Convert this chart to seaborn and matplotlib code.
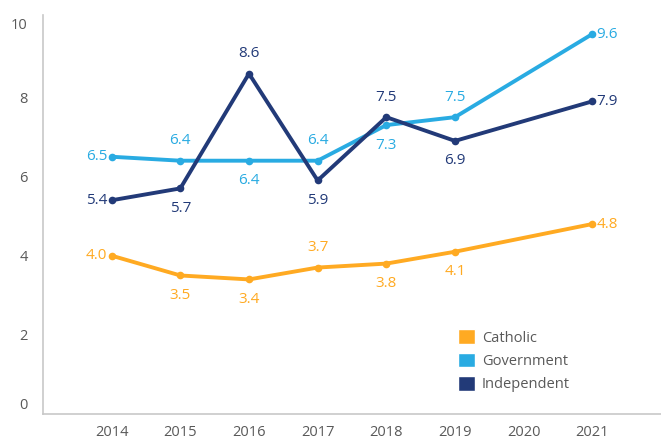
import numpy as np
import pandas as pd
import matplotlib.pyplot as plt
import matplotlib.transforms as mtransforms
import seaborn as sns
from matplotlib.patches import Patch

years = [2014, 2015, 2016, 2017, 2018, 2019, 2021]
catholic = [4.0, 3.5, 3.4, 3.7, 3.8, 4.1, 4.8]
government = [6.5, 6.4, 6.4, 6.4, 7.3, 7.5, 9.6]
independent = [5.4, 5.7, 8.6, 5.9, 7.5, 6.9, 7.9]
sectors = ["Catholic", "Government", "Independent"]
tick_years = list(range(2013, 2023))

colors = {"Catholic": "#FFAA22", "Government": "#29ABE2", "Independent": "#223A78"}
# where each value label sits relative to its point
label_pos = {
    "Catholic": ["l", "b", "b", "a", "b", "b", "r"],
    "Government": ["l", "a", "b", "a", "b", "a", "r"],
    "Independent": ["l", "b", "a", "b", "a", "b", "r"],
}

df = pd.DataFrame({
    "Year": years * 3,
    "Value": catholic + government + independent,
    "Sector": np.repeat(sectors, len(years)),
})

sns.set_theme(style="white")
plt.rcParams["font.family"] = ["Open Sans", "DejaVu Sans"]
grey = "#595959"

fig = plt.figure(figsize=(6.61, 4.43), dpi=100)
ax = fig.add_axes([0.065, 0.0655, 0.935, 0.9005])

sns.lineplot(data=df, x="Year", y="Value", hue="Sector", palette=colors,
             linewidth=2.8, marker="o", markersize=5.5, markeredgewidth=0,
             legend=False, ax=ax, clip_on=False)

offsets = {"l": (-3, 0, "right", "center"), "r": (3, 0, "left", "center"),
           "a": (0, 9, "center", "bottom"), "b": (0, -9, "center", "top")}
for s in sectors:
    sub = df[df["Sector"] == s].reset_index(drop=True)
    for i, row in sub.iterrows():
        dx, dy, ha, va = offsets[label_pos[s][i]]
        ax.annotate(f"{row['Value']:.1f}", (row["Year"], row["Value"]),
                    xytext=(dx, dy), textcoords="offset points",
                    ha=ha, va=va, color=colors[s], fontsize=11)

ax.set_xlim(2013, 2022)
ax.set_ylim(0, 10.08)
ax.set_xticks(tick_years)
ax.set_xticklabels(["" if y in (2013, 2022) else str(y) for y in tick_years])
ax.set_yticks([0, 2, 4, 6, 8, 10])
ax.tick_params(axis="both", labelsize=10.5, length=3, width=0.8)
ax.tick_params(axis="x", colors="#D9D9D9", labelcolor=grey, pad=5)
ax.tick_params(axis="y", colors="#D9D9D9", labelcolor=grey, pad=8)
ax.set_xlabel("")
ax.set_ylabel("")
for side in ["top", "right"]:
    ax.spines[side].set_visible(False)
for side in ["left", "bottom"]:
    ax.spines[side].set_color("#C8C8C8")
    ax.spines[side].set_linewidth(1.2)

# the reference nudges the end labels of the y axis inward
ylabels = ax.get_yticklabels()
ylabels[0].set_transform(ylabels[0].get_transform() +
                         mtransforms.ScaledTranslation(0, 10 / 100, fig.dpi_scale_trans))
ylabels[-1].set_transform(ylabels[-1].get_transform() +
                          mtransforms.ScaledTranslation(0, -5 / 100, fig.dpi_scale_trans))

handles = [Patch(facecolor=colors[s], label=s) for s in sectors]
ax.legend(handles=handles, loc="upper left", bbox_to_anchor=(0.65, 0.245),
          frameon=False, fontsize=10.5, handlelength=1.15, handleheight=1.15,
          handletextpad=0.5, labelspacing=0.5, labelcolor=grey)

fig.savefig("out.png", dpi=100, facecolor="white")
